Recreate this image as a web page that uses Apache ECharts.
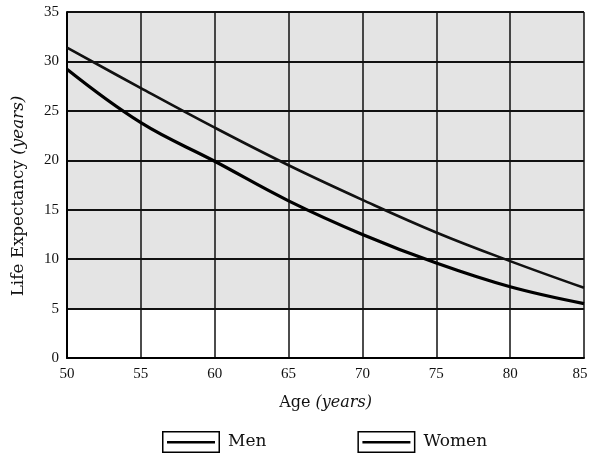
<!DOCTYPE html>
<html>
<head>
<meta charset="utf-8">
<script src="https://cdn.jsdelivr.net/npm/echarts@6/dist/echarts.min.js"></script>
<style>html,body{margin:0;padding:0;background:#fff;}#c{width:590px;height:455px;}</style>
</head>
<body>
<div id="c"></div>
<script>
const ages = [50, 55, 60, 65, 70, 75, 80, 85];
const menValues = [29.2, 23.8, 19.9, 15.9, 12.5, 9.6, 7.2, 5.5];
const womenValues = [31.4, 27.3, 23.3, 19.5, 16.0, 12.7, 9.8, 7.1];
const seriesNames = ['Men', 'Women'];

const FONT = '"DejaVu Serif", "Liberation Serif", serif';
const TICKFONT = '"Liberation Serif", "DejaVu Serif", serif';
const pair = (xs, ys) => xs.map((x, i) => [x, ys[i]]);
const legendIcon = 'path://M0,0 L58,0 L58,22 L0,22 Z M1.5,1.5 L1.5,20.5 L56.5,20.5 L56.5,1.5 Z M5,10 L53,10 L53,12.6 L5,12.6 Z';
const xMax = ages[ages.length - 1];

const chart = echarts.init(document.getElementById('c'));
chart.setOption({
  animation: false,
  backgroundColor: '#fff',
  grid: { left: 67, top: 12, right: 6, bottom: 97, outerBoundsMode: 'none', containLabel: false },
  legend: {
    data: seriesNames,
    left: 162, top: 431, padding: 0,
    icon: legendIcon,
    itemWidth: 58, itemHeight: 22, itemGap: 91,
    itemStyle: { color: '#000', borderWidth: 0 },
    textStyle: { fontFamily: FONT, fontSize: 17, color: '#111', padding: [0, 0, 0, 3] }
  },
  xAxis: {
    type: 'value', min: 50, max: 85, interval: 5,
    name: 'Age {i|(years)}',
    nameLocation: 'middle', nameGap: 37,
    nameTextStyle: { fontFamily: FONT, fontSize: 16, color: '#111',
      rich: { i: { fontFamily: FONT, fontStyle: 'italic', fontSize: 16, color: '#111' } } },
    axisLine: { lineStyle: { color: '#000', width: 2 } },
    axisTick: { show: false },
    axisLabel: {
      fontFamily: TICKFONT, fontSize: 15, color: '#111', margin: 9,
      formatter: v => (v === xMax ? '{r|' + v + '}' : String(v)),
      rich: { r: { fontFamily: TICKFONT, fontSize: 15, color: '#111', padding: [0, 8, 0, 0] } }
    },
    splitLine: { show: true, lineStyle: { color: '#111', width: 1.5 } }
  },
  yAxis: {
    type: 'value', min: 0, max: 35, interval: 5,
    name: 'Life Expectancy {i|(years)}',
    nameLocation: 'middle', nameGap: 40,
    nameTextStyle: { fontFamily: FONT, fontSize: 16.8, color: '#111', padding: [0, 22, 0, 0],
      rich: { i: { fontFamily: FONT, fontStyle: 'italic', fontSize: 16.8, color: '#111' } } },
    axisLine: { show: true, lineStyle: { color: '#000', width: 2 } },
    axisTick: { show: false },
    axisLabel: { fontFamily: TICKFONT, fontSize: 15, color: '#111', margin: 8 },
    splitLine: { show: true, lineStyle: { color: '#111', width: 1.8 } },
    splitArea: { show: true, areaStyle: { color: ['#ffffff', '#e4e4e4', '#e4e4e4', '#e4e4e4', '#e4e4e4', '#e4e4e4', '#e4e4e4'] } }
  },
  series: [
    { name: seriesNames[0], type: 'line', data: pair(ages, menValues), smooth: 0.4, showSymbol: false, symbol: 'none',
      color: '#000', lineStyle: { color: '#000', width: 3.2 } },
    { name: seriesNames[1], type: 'line', data: pair(ages, womenValues), smooth: 0.4, showSymbol: false, symbol: 'none',
      color: '#000', lineStyle: { color: '#111', width: 2.6 } }
  ]
});
</script>
</body>
</html>
